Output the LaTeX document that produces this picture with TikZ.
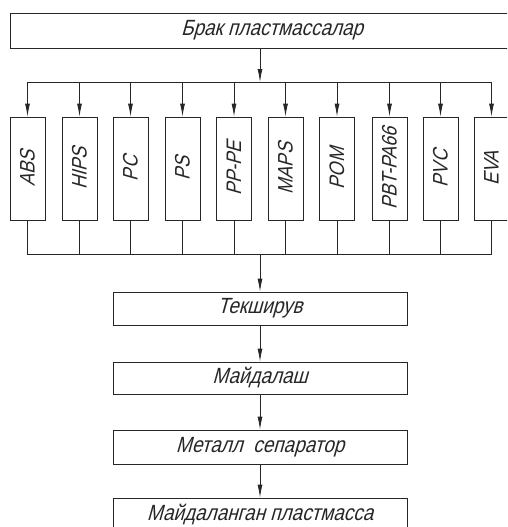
\documentclass[tikz,border=0pt]{standalone}
\usepackage{fontspec}
\newfontfamily\gost[FakeSlant=0.28,FakeStretch=0.86]{Liberation Sans}
\usetikzlibrary{arrows.meta}
\tikzset{
  blok/.style={draw=black!85, line width=0.8pt, inner sep=0pt, text=black!85,
    font=\gost\fontsize{22}{24}\selectfont},
  tur/.style={draw=black!85, line width=0.8pt, minimum width=35pt, minimum height=103pt,
    inner sep=0pt, text=black!85, font=\gost\fontsize{21}{23}\selectfont},
  strelka/.style={draw=black!85, line width=0.8pt, -{Latex[length=13pt,width=5pt]}},
  chiziq/.style={draw=black!85, line width=0.8pt},
}

\begin{document}
\begin{tikzpicture}[x=1pt,y=-1pt]
    \useasboundingbox (0,0) rectangle (507,527);
    \clip (0,0) rectangle (507,527);

    % yuqori blok
    \node[blok, minimum width=524pt, minimum height=35pt] (brak) at (272,30.5) {Брак пластмассалар};

    % turlari
    \node[tur] (abs)  at (27.5,168.5)  {\rotatebox{90}{ABS}};
    \node[tur] (hips) at (79.5,168.5)  {\rotatebox{90}{HIPS}};
    \node[tur] (pc)   at (130.5,168.5) {\rotatebox{90}{PC}};
    \node[tur] (ps)   at (182.5,168.5) {\rotatebox{90}{PS}};
    \node[tur] (pppe) at (234,168.5)   {\rotatebox{90}{PP-PE}};
    \node[tur] (maps) at (285.5,168.5) {\rotatebox{90}{MAPS}};
    \node[tur] (pom)  at (337,168.5)   {\rotatebox{90}{POM}};
    \node[tur] (pbt)  at (389.5,168.5) {\rotatebox{90}{PBT-PA66}};
    \node[tur] (pvc)  at (440.5,168.5) {\rotatebox{90}{PVC}};
    \node[tur] (eva)  at (491.5,168.5) {\rotatebox{90}{EVA}};

    % pastki bloklar
    \node[blok, minimum width=294pt, minimum height=33pt] (tekshiruv)   at (260,308.5) {Текширув};
    \node[blok, minimum width=294pt, minimum height=32pt] (maydalash)   at (260,378)   {Майдалаш};
    \node[blok, minimum width=294pt, minimum height=34pt] (metall)      at (260,447)   {Металл \ сепаратор};
    \node[blok, minimum width=294pt, minimum height=34pt] (maydalangan) at (260,515)   {Майдаланган пластмасса};

    \coordinate (yuqori) at (260,82);
    \coordinate (pastki) at (260,254);

    % tarqatish
    \draw[strelka] (yuqori |- brak.south) -- (yuqori);
    \draw[chiziq] (abs.north |- yuqori) -- (eva.north |- yuqori);
    \draw[strelka] (abs.north |- yuqori)  -- (abs.north);
    \draw[strelka] (hips.north |- yuqori) -- (hips.north);
    \draw[strelka] (pc.north |- yuqori)   -- (pc.north);
    \draw[strelka] (ps.north |- yuqori)   -- (ps.north);
    \draw[strelka] (pppe.north |- yuqori) -- (pppe.north);
    \draw[strelka] (maps.north |- yuqori) -- (maps.north);
    \draw[strelka] (pom.north |- yuqori)  -- (pom.north);
    \draw[strelka] (pbt.north |- yuqori)  -- (pbt.north);
    \draw[strelka] (pvc.north |- yuqori)  -- (pvc.north);
    \draw[strelka] (eva.north |- yuqori)  -- (eva.north);

    % yig'ish
    \draw[chiziq] (abs.south) -- (abs.south |- pastki) -- (eva.south |- pastki) -- (eva.south);
    \draw[chiziq] (hips.south) -- (hips.south |- pastki);
    \draw[chiziq] (pc.south)   -- (pc.south |- pastki);
    \draw[chiziq] (ps.south)   -- (ps.south |- pastki);
    \draw[chiziq] (pppe.south) -- (pppe.south |- pastki);
    \draw[chiziq] (maps.south) -- (maps.south |- pastki);
    \draw[chiziq] (pom.south)  -- (pom.south |- pastki);
    \draw[chiziq] (pbt.south)  -- (pbt.south |- pastki);
    \draw[chiziq] (pvc.south)  -- (pvc.south |- pastki);

    \draw[strelka] (pastki) -- (tekshiruv);
    \draw[strelka] (tekshiruv) -- (maydalash);
    \draw[strelka] (maydalash) -- (metall);
    \draw[strelka] (metall) -- (maydalangan);
\end{tikzpicture}
\end{document}
